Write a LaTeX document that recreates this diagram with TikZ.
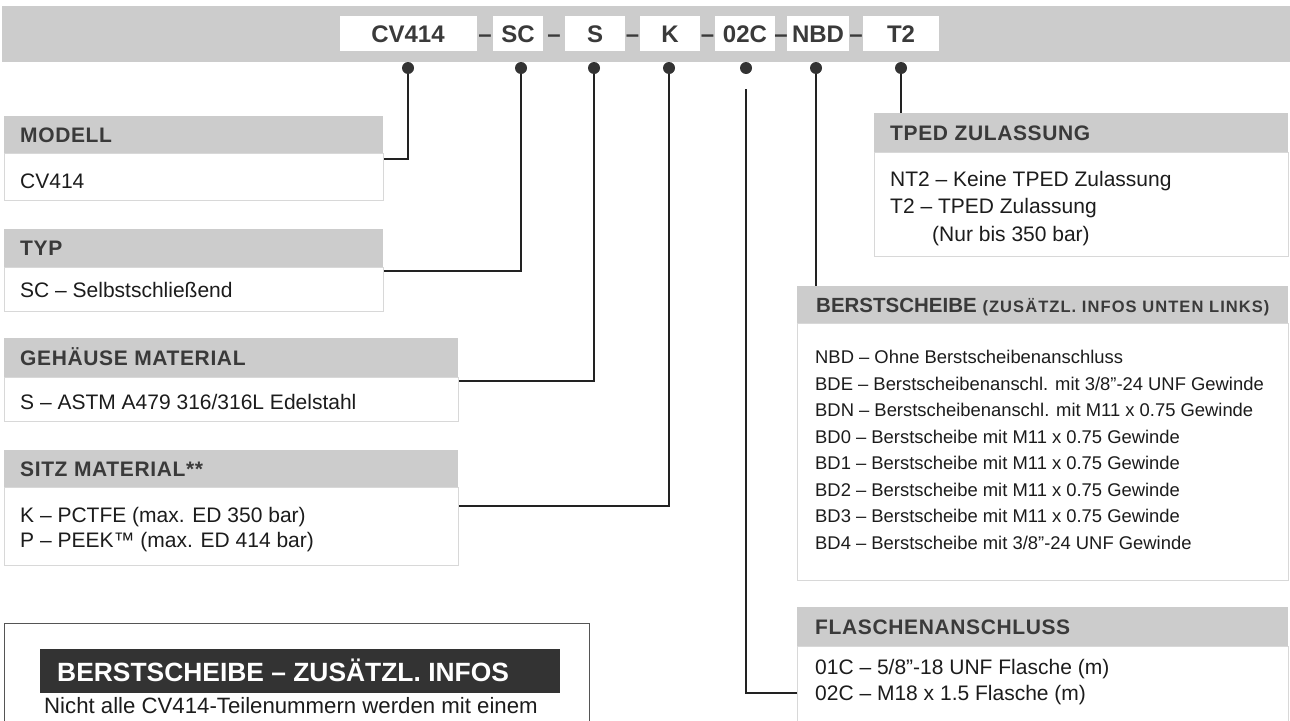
\documentclass[tikz,border=0pt]{standalone}
\usepackage{fontspec}
\setmainfont{Liberation Sans}
\newfontfamily\headfont{Liberation Sans}[LetterSpace=3]
\newfontfamily\smallhead{Liberation Sans}[LetterSpace=6.5]
\definecolor{hdrgray}{HTML}{CCCCCC}
\definecolor{boxline}{HTML}{D8D8D8}
\definecolor{txt}{HTML}{1C1C1C}
\definecolor{htxt}{HTML}{3A3A3A}
\definecolor{darkfill}{HTML}{333333}
\definecolor{connc}{HTML}{222222}
\definecolor{infoline}{HTML}{555555}
\begin{document}
\begin{tikzpicture}[x=1pt,y=-1pt,
  hdr/.style={fill=hdrgray, draw=none, anchor=north west, inner sep=0},
  bodybox/.style={fill=white, draw=boxline, line width=1pt, anchor=north west, inner sep=0},
  htext/.style={anchor=base west, text=htxt, inner sep=0, font=\headfont\bfseries\fontsize{21}{25}\selectfont},
  btext/.style={anchor=base west, text=txt, inner sep=0, font=\fontsize{21}{25}\selectfont},
  stext/.style={anchor=base west, text=txt, inner sep=0, font=\fontsize{18.4}{22}\selectfont},
  codebox/.style={fill=white, draw=none, minimum height=35pt, inner sep=0, text height=17.2pt, text depth=0pt, text=htxt, font=\bfseries\fontsize{24}{28}\selectfont},
  dashtxt/.style={anchor=base, inner sep=0, text=htxt, font=\bfseries\fontsize{24}{28}\selectfont},
  cdot/.style={circle, fill=darkfill, inner sep=0, minimum size=12pt},
  conn/.style={draw=connc, line width=1.2pt}
]
\useasboundingbox (0,0) rectangle (1290,720);
\begin{scope}
\clip (0,0) rectangle (1290,720);

% ---- top bar with code ----
\node[hdr, minimum width=1288pt, minimum height=56pt] (bar) at (2,6) {};
\node[codebox, minimum width=137pt] (k1) at (408,33.5) {CV414};
\node[codebox, minimum width=50pt]  (k2) at (518,33.5) {SC};
\node[codebox, minimum width=60pt]  (k3) at (595,33.5) {S};
\node[codebox, minimum width=60pt]  (k4) at (670,33.5) {K};
\node[codebox, minimum width=60pt]  (k5) at (745,33.5) {02C};
\node[codebox, minimum width=62pt]  (k6) at (818,33.5) {NBD};
\node[codebox, minimum width=76pt]  (k7) at (901,33.5) {T2};
\node[dashtxt] (m1) at (485,42) {–};
\node[dashtxt] (m2) at (554,42) {–};
\node[dashtxt] (m3) at (632.5,42) {–};
\node[dashtxt] (m4) at (707.5,42) {–};
\node[dashtxt] (m5) at (781,42) {–};
\node[dashtxt] (m6) at (856,42) {–};

% ---- left boxes ----
\node[bodybox, minimum width=379pt, minimum height=47pt] (bMod) at (4,153) {};
\node[hdr, minimum width=379pt, minimum height=37pt] (hMod) at (4,116) {};
\node[htext] (tMod) at (20,142) {MODELL};
\node[btext] (vMod) at (20,188) {CV414};

\node[bodybox, minimum width=379pt, minimum height=44pt] (bTyp) at (4,267) {};
\node[hdr, minimum width=379pt, minimum height=38pt] (hTyp) at (4,229) {};
\node[htext] (tTyp) at (20,255) {TYP};
\node[btext] (vTyp) at (20,297) {SC – Selbstschließend};

\node[bodybox, minimum width=454pt, minimum height=44pt] (bGeh) at (4,377) {};
\node[hdr, minimum width=454pt, minimum height=39pt] (hGeh) at (4,338) {};
\node[htext] (tGeh) at (20,365) {GEHÄUSE MATERIAL};
\node[btext] (vGeh) at (20,409) {S – ASTM A479 316/316L Edelstahl};

\node[bodybox, minimum width=454pt, minimum height=78pt] (bSitz) at (4,487) {};
\node[hdr, minimum width=454pt, minimum height=37pt] (hSitz) at (4,450) {};
\node[htext] (tSitz) at (20,476) {SITZ MATERIAL**};
\node[btext] (vSitz1) at (20,522) {K – PCTFE (max. ED 350 bar)};
\node[btext] (vSitz2) at (20,547) {P – PEEK™ (max. ED 414 bar)};

% ---- info box ----
\node[fill=white, draw=infoline, line width=1.2pt, anchor=north west, inner sep=0, minimum width=585pt, minimum height=130pt] (info) at (4,623) {};
\node[fill=darkfill, anchor=north west, inner sep=0, minimum width=520pt, minimum height=44pt] (hInfo) at (40,649) {};
\node[anchor=base west, inner sep=0, text=white, font=\bfseries\fontsize{26.4}{30}\selectfont] (tInfo) at (57,681) {BERSTSCHEIBE – ZUSÄTZL. INFOS};
\node[anchor=base west, inner sep=0, text=txt, font=\fontsize{22.2}{26}\selectfont] (vInfo) at (44,713) {Nicht alle CV414-Teilenummern werden mit einem};

% ---- right boxes ----
\node[bodybox, minimum width=414pt, minimum height=104pt] (bTp) at (874,152) {};
\node[hdr, minimum width=414pt, minimum height=39pt] (hTp) at (874,113) {};
\node[htext] (tTp) at (890,140) {TPED ZULASSUNG};
\node[btext] (vTp1) at (890,186) {NT2 – Keine TPED Zulassung};
\node[btext] (vTp2) at (890,213.5) {T2 – TPED Zulassung};
\node[btext] (vTp3) at (932,241) {(Nur bis 350 bar)};

\node[bodybox, minimum width=491pt, minimum height=257pt] (bBer) at (797,323) {};
\node[hdr, minimum width=491pt, minimum height=37pt] (hBer) at (797,286) {};
\node[anchor=base west, inner sep=0, text=htxt] (tBer) at (816,312) {\bfseries\fontsize{20.5}{24}\selectfont BERSTSCHEIBE {\smallhead\bfseries\fontsize{16.5}{20}\selectfont (ZUSÄTZL. INFOS UNTEN LINKS)}};
\node[stext] (vB0) at (815,363.5) {NBD – Ohne Berstscheibenanschluss};
\node[stext] (vB1) at (815,390)   {BDE – Berstscheibenanschl. mit 3/8”-24 UNF Gewinde};
\node[stext] (vB2) at (815,416.5) {BDN – Berstscheibenanschl. mit M11 x 0.75 Gewinde};
\node[stext] (vB3) at (815,443)   {BD0 – Berstscheibe mit M11 x 0.75 Gewinde};
\node[stext] (vB4) at (815,469.5) {BD1 – Berstscheibe mit M11 x 0.75 Gewinde};
\node[stext] (vB5) at (815,496)   {BD2 – Berstscheibe mit M11 x 0.75 Gewinde};
\node[stext] (vB6) at (815,522.5) {BD3 – Berstscheibe mit M11 x 0.75 Gewinde};
\node[stext] (vB7) at (815,549)   {BD4 – Berstscheibe mit 3/8”-24 UNF Gewinde};

\node[bodybox, minimum width=491pt, minimum height=110pt] (bFl) at (797,646) {};
\node[hdr, minimum width=491pt, minimum height=39pt] (hFl) at (797,607) {};
\node[htext] (tFl) at (815,634) {FLASCHENANSCHLUSS};
\node[btext] (vFl1) at (815,674) {01C – 5/8”-18 UNF Flasche (m)};
\node[btext] (vFl2) at (815,700) {02C – M18 x 1.5 Flasche (m)};

% ---- connectors ----
\coordinate (d1) at (408,68);
\coordinate (d2) at (521,68);
\coordinate (d3) at (594,68);
\coordinate (d4) at (669,68);
\coordinate (d5) at (746,68);
\coordinate (d6) at (816,68);
\coordinate (d7) at (901,68);
\coordinate (c5) at ([yshift=-21pt]d5);
\draw[conn] (d1) |- ([yshift=-6pt]bMod.north east);
\draw[conn] (d2) |- ([yshift=-4pt]bTyp.north east);
\draw[conn] (d3) |- ([yshift=-4pt]bGeh.north east);
\draw[conn] (d4) |- ([yshift=-19pt]bSitz.north east);
\draw[conn] (c5) |- ([yshift=-47pt]bFl.north west);
\draw[conn] (d6) -- (d6 |- hBer.north);
\draw[conn] (d7) -- (d7 |- hTp.north);
\node[cdot] (p1) at (d1) {};
\node[cdot] (p2) at (d2) {};
\node[cdot] (p3) at (d3) {};
\node[cdot] (p4) at (d4) {};
\node[cdot] (p5) at (d5) {};
\node[cdot] (p6) at (d6) {};
\node[cdot] (p7) at (d7) {};
\end{scope}
\end{tikzpicture}
\end{document}
